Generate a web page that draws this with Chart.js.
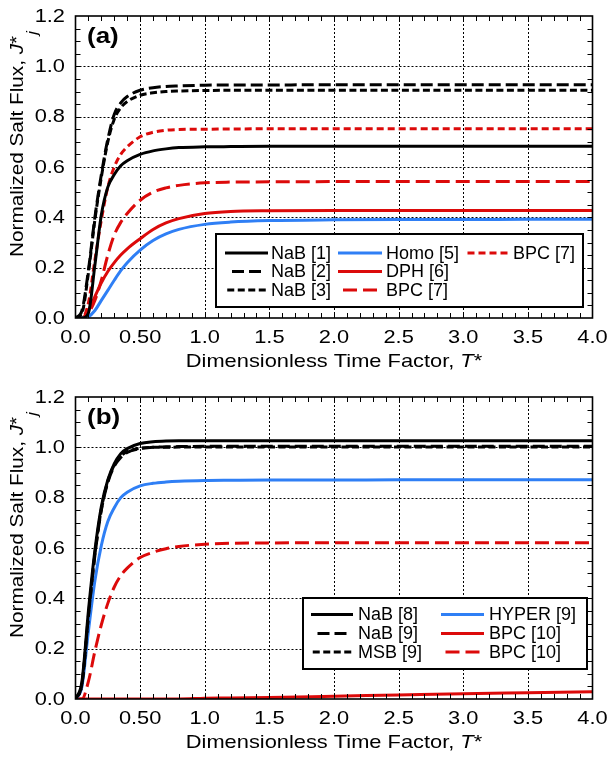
<!DOCTYPE html>
<html>
<head>
<meta charset="utf-8">
<script src="https://cdn.jsdelivr.net/npm/chart.js@4"></script>
<style>
  body { margin: 0; background: #fff; }
  canvas { display: block; }
</style>
</head>
<body>
<canvas id="chartA" width="610" height="381"></canvas>
<canvas id="chartB" width="610" height="377"></canvas>
<script>
// ==================== DATA ====================
const tGrid = [0, 0.05, 0.1, 0.15, 0.2, 0.25, 0.3, 0.35, 0.4, 0.5, 0.6, 0.7, 0.8, 1.0, 1.2, 1.5, 2.0, 2.5, 3.0, 3.5, 4.0];

// panel (a)
const nab1  = [0, 0,    0.02, 0.21, 0.41, 0.52, 0.57, 0.605, 0.625, 0.65,  0.664, 0.672, 0.677, 0.68,  0.681, 0.682, 0.682, 0.682, 0.682, 0.682, 0.682];
const nab2  = [0, 0.03, 0.19, 0.40, 0.57, 0.71, 0.81, 0.855, 0.88,  0.905, 0.915, 0.92,  0.922, 0.925, 0.926, 0.926, 0.927, 0.927, 0.927, 0.927, 0.927];
const nab3  = [0, 0.02, 0.18, 0.39, 0.56, 0.70, 0.79, 0.835, 0.86,  0.885, 0.895, 0.90,  0.902, 0.904, 0.905, 0.905, 0.905, 0.905, 0.905, 0.905, 0.905];
const homo5 = [0, 0,    0.005,0.03, 0.07, 0.11, 0.15, 0.188, 0.22,  0.27,  0.308, 0.334, 0.352, 0.372, 0.381, 0.387, 0.39,  0.391, 0.391, 0.392, 0.392];
const dph6  = [0, 0,    0.03, 0.085,0.14, 0.185,0.22, 0.25,  0.275, 0.315, 0.352, 0.378, 0.395, 0.415, 0.423, 0.426, 0.427, 0.427, 0.427, 0.427, 0.427];
const bpc7L = [0, 0,    0.02, 0.07, 0.15, 0.25, 0.33, 0.38,  0.415, 0.468, 0.50,  0.517, 0.527, 0.537, 0.54,  0.541, 0.542, 0.542, 0.542, 0.542, 0.542];
const bpc7S = [0, 0,    0.06, 0.23, 0.39, 0.52, 0.60, 0.65,  0.68,  0.72,  0.738, 0.746, 0.749, 0.75,  0.751, 0.752, 0.752, 0.752, 0.752, 0.752, 0.752];

// panel (b)
const nab8   = [0, 0.07, 0.35, 0.59, 0.765,0.87, 0.935,0.975, 0.995, 1.015, 1.022, 1.025, 1.026, 1.026, 1.026, 1.026, 1.026, 1.026, 1.026, 1.026, 1.026];
const nab9   = [0, 0.06, 0.33, 0.57, 0.75, 0.86, 0.925,0.96,  0.98,  0.995, 1.0,   1.002, 1.003, 1.004, 1.004, 1.004, 1.004, 1.004, 1.004, 1.004, 1.004];
const msb9   = [0, 0.06, 0.33, 0.575,0.755,0.865,0.93, 0.965, 0.983, 0.996, 1.0,   1.0,   1.001, 1.001, 1.001, 1.001, 1.001, 1.001, 1.001, 1.001, 1.001];
const hyper9 = [0, 0.05, 0.27, 0.47, 0.61, 0.705,0.76, 0.80,  0.822, 0.847, 0.857, 0.862, 0.865, 0.868, 0.869, 0.87,  0.87,  0.871, 0.871, 0.871, 0.871];
const bpc10S = [0, 0,    0,    0,    0,    0,    0,    0,     0,     0,     0,     0,     0,     0.003, 0.004, 0.006, 0.011, 0.016, 0.021, 0.025, 0.029];
const bpc10L = [0, 0,    0.07, 0.19, 0.295,0.38, 0.445,0.49,  0.52,  0.562, 0.583, 0.597, 0.606, 0.615, 0.619, 0.62,  0.621, 0.621, 0.621, 0.621, 0.621];

const xTicks = [0, 0.5, 1, 1.5, 2, 2.5, 3, 3.5, 4];
const xTickLabels = ["0.0", "0.50", "1.0", "1.5", "2.0", "2.5", "3.0", "3.5", "4.0"];
const yTicks = [0, 0.2, 0.4, 0.6, 0.8, 1.0, 1.2];
const yTickLabels = ["0.0", "0.2", "0.4", "0.6", "0.8", "1.0", "1.2"];

// ==================== STYLES ====================
const BLACK = "#000000", BLUE = "#2f7ff5", RED = "#dc0a0a";
const LONG_K = [12, 5], SHORT_K = [7, 3.5], LONG_R = [14, 6], SHORT_R = [7, 4];
const FONT = '"Liberation Sans", Arial, Helvetica, sans-serif';
const STRETCH = 1.18;

const line = (label, ys, color, dash) => ({
  label,
  data: tGrid.map((t, i) => ({ x: t, y: ys[i] })),
  borderColor: color,
  borderDash: dash || [],
  borderWidth: 3,
  pointRadius: 0,
  fill: false,
  cubicInterpolationMode: "monotone"
});

// ==================== PLUGIN: frame, grid, labels, legend ====================
function stretched(ctx, text, x, y, align, font) {
  ctx.save();
  ctx.font = font;
  ctx.translate(x, y);
  ctx.scale(STRETCH, 1);
  ctx.textAlign = align;
  ctx.textBaseline = "alphabetic";
  ctx.fillText(text, 0, 0);
  ctx.restore();
}

function pieces(ctx, parts) {
  let w = 0;
  parts.forEach(p => { ctx.font = p.f; p.w = ctx.measureText(p.t).width; w += p.w; });
  return w;
}

const panelPlugin = {
  id: "panel",
  beforeDatasetsDraw(chart) {
    const { ctx, chartArea: a, scales: { x, y } } = chart;
    ctx.save();
    ctx.strokeStyle = BLACK;
    ctx.lineWidth = 1;
    ctx.setLineDash([2, 2]);
    xTicks.slice(1, -1).forEach(v => {
      const px = Math.round(x.getPixelForValue(v)) + 0.5;
      ctx.beginPath(); ctx.moveTo(px, a.top); ctx.lineTo(px, a.bottom); ctx.stroke();
    });
    yTicks.slice(1, -1).forEach(v => {
      const py = Math.round(y.getPixelForValue(v)) + 0.5;
      ctx.beginPath(); ctx.moveTo(a.left, py); ctx.lineTo(a.right, py); ctx.stroke();
    });
    ctx.restore();
  },
  afterDatasetsDraw(chart, args, o) {
    const { ctx, chartArea: a, scales: { x, y } } = chart;
    ctx.save();
    ctx.fillStyle = BLACK;
    ctx.strokeStyle = BLACK;

    // minor/major ticks, inward on all sides
    ctx.lineWidth = 1;
    ctx.setLineDash([]);
    for (let i = 1; i < 40; i++) {
      const px = Math.round(x.getPixelForValue(i / 10)) + 0.5;
      ctx.beginPath();
      ctx.moveTo(px, a.bottom); ctx.lineTo(px, a.bottom - 5);
      ctx.moveTo(px, a.top); ctx.lineTo(px, a.top + 5);
      ctx.stroke();
    }
    for (let i = 1; i < 24; i++) {
      const py = Math.round(y.getPixelForValue(i / 20)) + 0.5;
      ctx.beginPath();
      ctx.moveTo(a.left, py); ctx.lineTo(a.left + 5, py);
      ctx.moveTo(a.right, py); ctx.lineTo(a.right - 5, py);
      ctx.stroke();
    }

    // frame
    ctx.lineWidth = 1.6;
    ctx.strokeRect(a.left, a.top, a.right - a.left, a.bottom - a.top);

    // tick labels
    const tf = `18.5px ${FONT}`;
    xTicks.forEach((v, i) => stretched(ctx, xTickLabels[i], x.getPixelForValue(v), 342.5, "center", tf));
    yTicks.forEach((v, i) => stretched(ctx, yTickLabels[i], 65, y.getPixelForValue(v) + 5.8, "right", tf));

    // x title
    const xt = [{ t: "Dimensionless Time Factor, ", f: tf }, { t: "T", f: `italic ${tf}` }, { t: "*", f: tf }];
    let w = pieces(ctx, xt) * STRETCH;
    let cx = (a.left + a.right) / 2 - w / 2;
    xt.forEach(p => { stretched(ctx, p.t, cx, 367, "left", p.f); cx += p.w * STRETCH; });

    // y title (rotated)
    ctx.save();
    ctx.translate(23, 257);
    ctx.rotate(-Math.PI / 2);
    ctx.scale(1.12, 1);
    ctx.textBaseline = "alphabetic";
    ctx.textAlign = "left";
    let tx = 0;
    [{ t: "Normalized Salt Flux, ", f: tf }, { t: "J", f: `italic ${tf}` }, { t: "*", f: tf }].forEach(p => {
      ctx.font = p.f; ctx.fillText(p.t, tx, 0); tx += ctx.measureText(p.t).width;
    });
    ctx.font = `italic 15px ${FONT}`;
    ctx.fillText("j", tx + 1, 14);
    ctx.restore();

    // panel letter
    stretched(ctx, o.letter, 87, 43.2, "left", `bold 22px ${FONT}`);

    // legend
    const L = o.legend;
    const [bx0, by0, bx1, by1] = L.box;
    ctx.fillStyle = "#fff";
    ctx.fillRect(bx0, by0, bx1 - bx0, by1 - by0);
    ctx.lineWidth = 2;
    ctx.strokeRect(bx0, by0, bx1 - bx0, by1 - by0);
    ctx.font = `18px ${FONT}`;
    ctx.textBaseline = "middle";
    ctx.textAlign = "left";
    L.items.forEach((col, ci) => {
      const c = L.cols[ci];
      col.forEach((di, ri) => {
        const ds = chart.data.datasets[di];
        const ry = L.rows[ri];
        const dash = ds.borderDash;
        let x0 = c.x0, x1 = c.x1;
        if (dash.length) {
          const p = dash[0] + dash[1];
          const n = Math.floor((x1 - x0 + dash[1]) / p);
          const used = n * p - dash[1];
          x0 += (x1 - x0 - used) / 2;
          x1 = x0 + used;
        }
        ctx.strokeStyle = ds.borderColor;
        ctx.lineWidth = 3;
        ctx.setLineDash(dash);
        ctx.beginPath(); ctx.moveTo(x0, ry); ctx.lineTo(x1, ry); ctx.stroke();
        ctx.setLineDash([]);
        ctx.fillStyle = BLACK;
        ctx.fillText(ds.label, c.tx, ry + 1);
      });
    });
    ctx.restore();
  }
};

// ==================== CHARTS ====================
function makeChart(id, datasets, panel) {
  const canvas = document.getElementById(id);
  return new Chart(canvas, {
    type: "line",
    data: { datasets },
    plugins: [panelPlugin],
    options: {
      responsive: false,
      animation: false,
      devicePixelRatio: 1,
      layout: { padding: { left: 75.5, right: 17.5, top: 16, bottom: canvas.height - 318 } },
      plugins: { legend: { display: false }, tooltip: { enabled: false }, panel },
      scales: {
        x: { type: "linear", min: 0, max: 4, display: false },
        y: { type: "linear", min: 0, max: 1.2, display: false }
      }
    }
  });
}

makeChart("chartA", [
  line("NaB [1]", nab1, BLACK),
  line("NaB [2]", nab2, BLACK, LONG_K),
  line("NaB [3]", nab3, BLACK, SHORT_K),
  line("Homo [5]", homo5, BLUE),
  line("DPH [6]", dph6, RED),
  line("BPC [7]", bpc7L, RED, LONG_R),
  line("BPC [7]", bpc7S, RED, SHORT_R)
], {
  letter: "(a)",
  legend: {
    box: [216, 234, 583, 307],
    rows: [253, 271.5, 290],
    cols: [{ x0: 225, x1: 268, tx: 271 }, { x0: 338, x1: 382, tx: 386 }, { x0: 466, x1: 509, tx: 513 }],
    items: [[0, 1, 2], [3, 4, 5], [6]]
  }
});

makeChart("chartB", [
  line("NaB [8]", nab8, BLACK),
  line("NaB [9]", nab9, BLACK, LONG_K),
  line("MSB [9]", msb9, BLACK, SHORT_K),
  line("HYPER [9]", hyper9, BLUE),
  line("BPC [10]", bpc10S, RED),
  line("BPC [10]", bpc10L, RED, LONG_R)
], {
  letter: "(b)",
  legend: {
    box: [303, 217, 587, 288],
    rows: [233.5, 252.5, 271],
    cols: [{ x0: 311, x1: 353, tx: 358 }, { x0: 441, x1: 484, tx: 489 }],
    items: [[0, 1, 2], [3, 4, 5]]
  }
});
</script>
</body>
</html>
